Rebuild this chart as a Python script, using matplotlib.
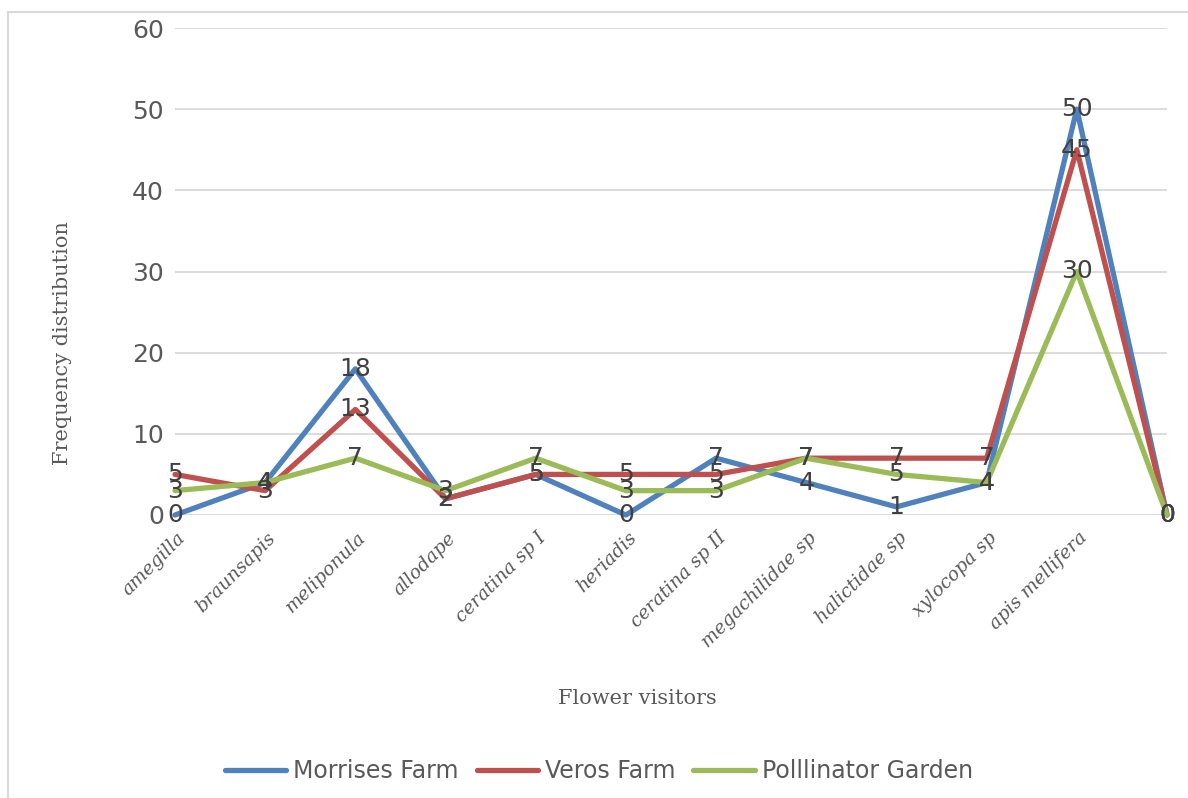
import matplotlib
matplotlib.use("Agg")
import matplotlib.pyplot as plt
from matplotlib.patches import Rectangle

categories = ["amegilla", "braunsapis", "meliponula", "allodape", "ceratina sp I",
              "heriadis", "ceratina sp II", "megachilidae sp", "halictidae sp",
              "xylocopa sp", "apis mellifera", ""]
morrises = [0, 4, 18, 2, 5, 0, 7, 4, 1, 4, 50, 0]
veros = [5, 3, 13, 2, 5, 5, 5, 7, 7, 7, 45, 0]
pollinator = [3, 4, 7, 3, 7, 3, 3, 7, 5, 4, 30, 0]
series_names = ["Morrises Farm", "Veros Farm", "Polllinator Garden"]
colors = ["#4F81BD", "#C0504D", "#9BBB59"]
y_ticks = [0, 10, 20, 30, 40, 50, 60]

W, H = 1188, 798
fig = plt.figure(figsize=(W / 100, H / 100), dpi=100)
fig.patch.set_facecolor("white")

# outer chart frame
fig.patches.append(Rectangle((8 / W, -0.1), 1.2, 1 - 12 / H + 0.1,
                             transform=fig.transFigure, fill=False,
                             edgecolor="#D9D9D9", linewidth=1.5, zorder=0))

left, right = 175 / W, 1167 / W
bottom, top = 1 - 515 / H, 1 - 28 / H
ax = fig.add_axes([left, bottom, right - left, top - bottom])
ax.set_facecolor("none")

x = list(range(len(categories)))
lines = []
for vals, name, c in zip([morrises, veros, pollinator], series_names, colors):
    ln, = ax.plot(x, vals, color=c, linewidth=3.8, solid_joinstyle="round",
                  solid_capstyle="round", label=name, zorder=3, clip_on=False)
    lines.append(ln)

for vals in [morrises, veros, pollinator]:
    for xi, v in zip(x, vals):
        ax.text(xi, v, str(v), ha="center", va="center", fontsize=18,
                color="#404040", family="DejaVu Sans", zorder=5)

ax.set_xlim(0, len(categories) - 1)
ax.set_ylim(0, 60)
ax.set_yticks(y_ticks)
ax.yaxis.grid(True, color="#D9D9D9", linewidth=1.3, zorder=0)
ax.set_axisbelow(True)
for s in ax.spines.values():
    s.set_visible(False)
ax.tick_params(axis="y", length=0, pad=8, labelsize=18, labelcolor="#595959")
ax.tick_params(axis="x", length=0)
ax.set_xticks(x)
ax.set_xticklabels([])

for xi, lab in zip(x, categories):
    ax.annotate(lab, xy=(xi, 0), xycoords="data", xytext=(1, -10),
                textcoords="offset points", rotation=45, rotation_mode="anchor",
                ha="right", va="top", fontsize=13.5, fontstyle="italic",
                family="DejaVu Serif", color="#595959")

fig.text(63 / W, 1 - 343 / H, "Frequency distribution", rotation=90,
         ha="center", va="center", fontsize=15, family="DejaVu Serif",
         color="#595959")
fig.text(637 / W, 1 - 698 / H, "Flower visitors", ha="center", va="center",
         fontsize=15, family="DejaVu Serif", color="#595959")

leg = fig.legend(handles=lines, labels=series_names, loc="center",
                 bbox_to_anchor=(599 / W, 1 - 771 / H), ncol=3, frameon=False,
                 handlelength=2.6, handletextpad=0.3, columnspacing=0.75,
                 prop={"family": "DejaVu Sans", "size": 17})
for t in leg.get_texts():
    t.set_color("#595959")

fig.savefig("out.png", dpi=100, facecolor="white")
